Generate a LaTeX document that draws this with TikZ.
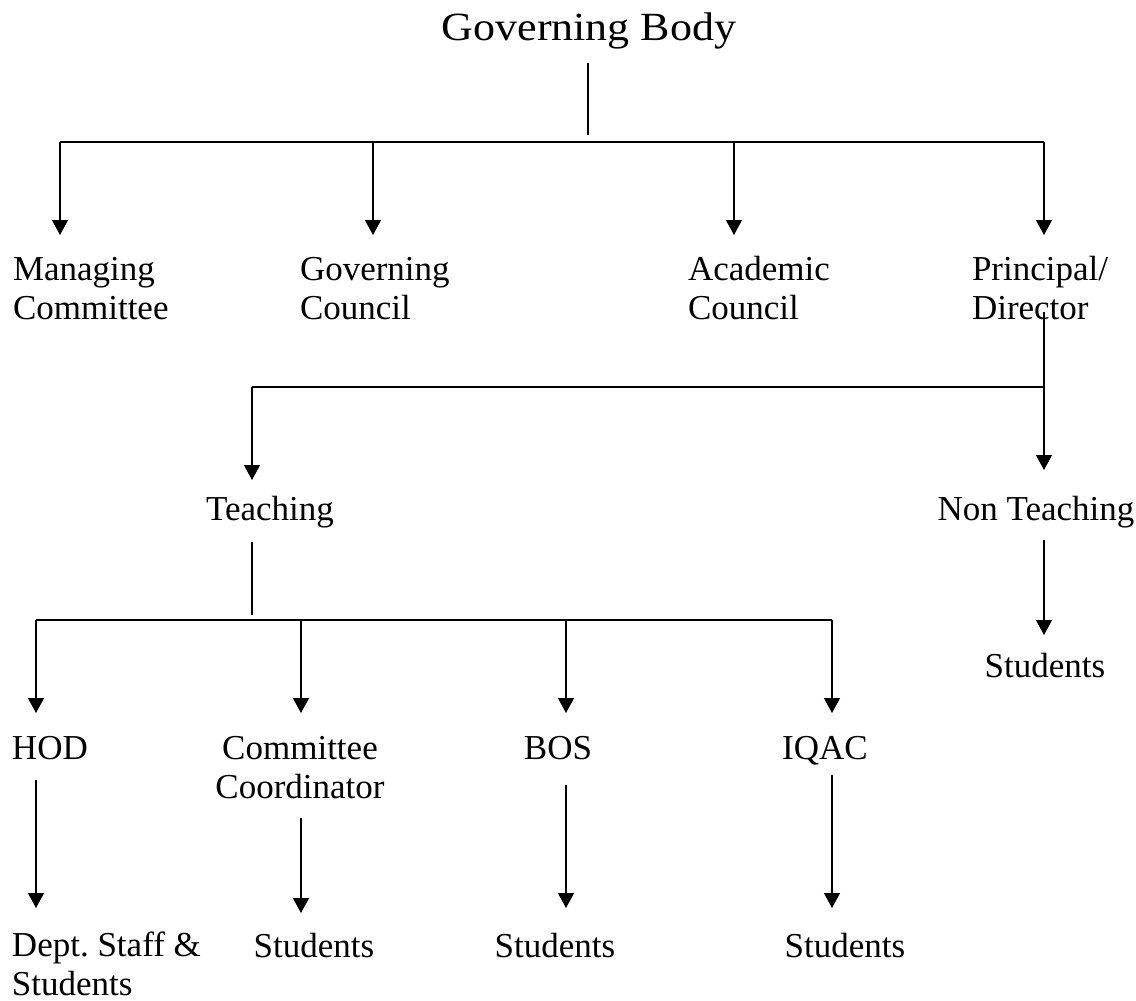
\documentclass[tikz,border=0pt]{standalone}
\usepackage{fontspec}
\setmainfont{Liberation Serif}
\newfontfamily\titlefont[FakeStretch=1.1]{Liberation Serif}
\usetikzlibrary{arrows.meta}
\tikzset{
  lbl/.style={inner sep=0pt, outer sep=0pt, font=\fontsize{35}{39}\selectfont},
  big/.style={inner sep=0pt, outer sep=0pt, font=\titlefont\fontsize{40}{44}\selectfont},
  ln/.style={line width=1.3pt},
  arr/.style={line width=1.3pt, -{Triangle[length=15pt,width=16pt]}},
}
\begin{document}
\begin{tikzpicture}[x=1pt,y=-1pt]
\useasboundingbox (0,0) rectangle (1136,1001);
% nodes (multi-line nodes: base = baseline of last line)
\node[big, anchor=base] (gb) at (589,40) {Governing Body};
\node[lbl, anchor=base west, align=left] (mc) at (13,319) {Managing\\Committee};
\node[lbl, anchor=base west, align=left] (gc) at (300,319) {Governing\\Council};
\node[lbl, anchor=base west, align=left] (ac) at (688,319) {Academic\\Council};
\node[lbl, anchor=base west, align=left] (pd) at (972,319) {Principal/\\Director};
\node[lbl, anchor=base] (te) at (270,520) {Teaching};
\node[lbl, anchor=base] (nt) at (1036,520) {Non Teaching};
\node[lbl, anchor=base] (st0) at (1045,677) {Students};
\node[lbl, anchor=base west] (hod) at (12,759) {HOD};
\node[lbl, anchor=base, align=center] (cc) at (300,798) {Committee\\Coordinator};
\node[lbl, anchor=base] (bos) at (558,759) {BOS};
\node[lbl, anchor=base] (iqac) at (825,759) {IQAC};
\node[lbl, anchor=base west, align=left] (ds) at (12,995) {Dept.\ Staff \&\\Students};
\node[lbl, anchor=base] (st1) at (314,957) {Students};
\node[lbl, anchor=base] (st2) at (555,957) {Students};
\node[lbl, anchor=base] (st3) at (845,957) {Students};
% junction coordinates
\coordinate (gbs) at (588,63);
\coordinate (gbe) at (588,135);
\coordinate (h1) at (588,142);
\coordinate (t1) at (60,235);
\coordinate (t2) at (373,235);
\coordinate (t3) at (734,235);
\coordinate (t4) at (1044,235);
\coordinate (pds) at (1044,312);
\coordinate (h2) at (1044,387);
\coordinate (tte) at (252,480);
\coordinate (tnt) at (1044,470);
\coordinate (tes) at (252,542);
\coordinate (tee) at (252,615);
\coordinate (h3) at (252,620);
\coordinate (u1) at (36,713);
\coordinate (u2) at (301,713);
\coordinate (u3) at (566,713);
\coordinate (u4) at (832,713);
\coordinate (nts) at (1044,540);
\coordinate (ntt) at (1044,635);
\coordinate (hs) at (36,780);
\coordinate (ht) at (36,908);
\coordinate (cs) at (301,818);
\coordinate (ct) at (301,913);
\coordinate (bs) at (566,785);
\coordinate (bt) at (566,908);
\coordinate (is) at (832,775);
\coordinate (it) at (832,908);
% connectors
\draw[ln] (gbs) -- (gbe);
\draw[ln] (h1 -| t1) -- (h1 -| t4);
\foreach \t in {t1,t2,t3,t4} \draw[arr] (h1 -| \t) -- (\t);
\draw[arr] (pds) -- (tnt);
\draw[ln] (h2) -- (h2 -| tte);
\draw[arr] (h2 -| tte) -- (tte);
\draw[ln] (tes) -- (tee);
\draw[ln] (h3 -| u1) -- (h3 -| u4);
\foreach \u in {u1,u2,u3,u4} \draw[arr] (h3 -| \u) -- (\u);
\draw[arr] (nts) -- (ntt);
\draw[arr] (hs) -- (ht);
\draw[arr] (cs) -- (ct);
\draw[arr] (bs) -- (bt);
\draw[arr] (is) -- (it);
\end{tikzpicture}
\end{document}
